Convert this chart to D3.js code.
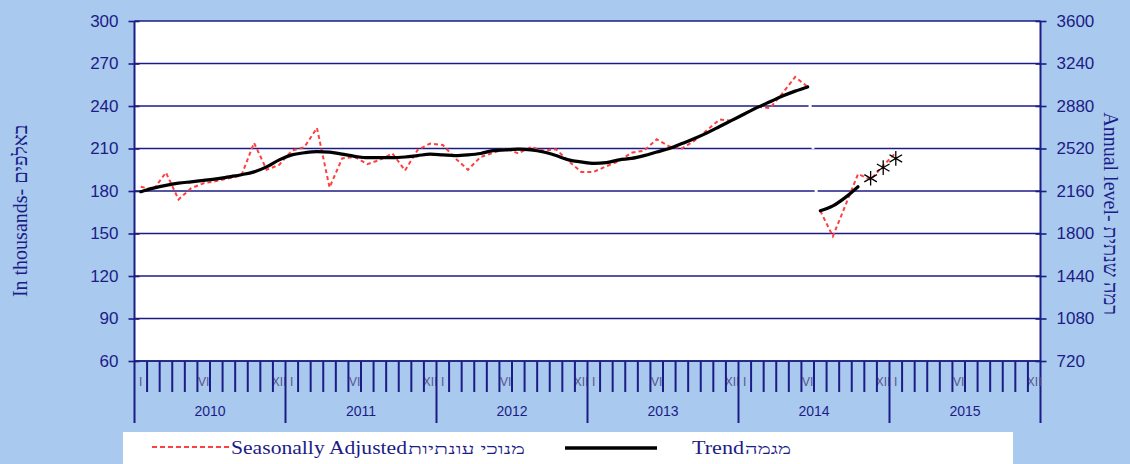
<!DOCTYPE html>
<html>
<head>
<meta charset="utf-8">
<script src="https://cdn.jsdelivr.net/npm/d3@7"></script>
<style>
  body { margin: 0; background: #a9c9ee; }
  svg { display: block; }
</style>
</head>
<body>
<div id="chart"></div>
<script>
// month index 0 = Jan 2010
const years = [2010, 2011, 2012, 2013, 2014, 2015];
const monthLabels = { 0: "I", 5: "VI", 11: "XII" };
const leftTicks = [60, 90, 120, 150, 180, 210, 240, 270, 300];
const rightTicks = [720, 1080, 1440, 1800, 2160, 2520, 2880, 3240, 3600];

// seasonally adjusted, Jan 2010 - Jun 2014
const adjusted1 = [183, 181, 193, 174, 182, 185.5, 187, 189, 191, 214, 195, 198.5,
  208.5, 211, 224.5, 182.5, 203, 204, 199, 202, 206.5, 194.5, 209, 213.5,
  212.5, 203, 195, 204, 207, 210, 206.5, 211, 208.5, 209.5, 201, 193.5,
  193.5, 197.5, 201, 207, 208.5, 216.5, 211.5, 210, 215.5, 223, 230.5, 229.5,
  235, 239.5, 238.5, 249, 260.5, 253.5];
// trend, Jan 2010 - Jun 2014
const trend1 = [179.5, 182, 184, 185.5, 186.5, 187.5, 188.5, 190, 191.5, 193.5, 197, 202,
  205.5, 207, 207.8, 207.5, 206, 204.5, 203.5, 203.5, 203.5, 204, 205, 206,
  205.5, 205, 205.5, 206.5, 208.5, 209, 209.5, 209, 207.5, 205, 202, 200.5,
  199.5, 200, 202, 203, 205, 207.5, 210, 213.5, 217, 221, 225.5, 230,
  234.5, 239, 243, 247, 250.5, 253.5];
// new series from Jul 2014
const start2 = 54;
const adjusted2 = [166, 148, 170, 192, 188, 198, 207];
const trend2 = [166, 169.5, 175.5, 183];
const forecastStart = 58;
const forecast = [189, 196.5, 203];

const breakLine = [[53.65, 245], [54.2, 176]];

const width = 1130, height = 464;
const navy = "#1c1c86";
const serif = "Liberation Serif, Times New Roman, serif";
const sans = "Liberation Sans, Arial, sans-serif";

const svg = d3.select("#chart").append("svg")
  .attr("width", width).attr("height", height);

svg.append("rect").attr("width", width).attr("height", height).attr("fill", "#a9c9ee");

const x = d3.scaleLinear().domain([0, 72]).range([134.5, 1040.5]);
const y = d3.scaleLinear().domain([60, 300]).range([361, 21]);
const y2 = d3.scaleLinear().domain([720, 3600]).range([361, 21]);

// plot area
svg.append("rect")
  .attr("x", x(0)).attr("y", y(300))
  .attr("width", x(72) - x(0)).attr("height", y(60) - y(300))
  .attr("fill", "#fff");

// gridlines
svg.append("g").selectAll("line")
  .data(leftTicks)
  .join("line")
  .attr("x1", x(0)).attr("x2", x(72))
  .attr("y1", d => y(d)).attr("y2", d => y(d))
  .attr("stroke", navy).attr("stroke-width", 1.6);

// break between series
svg.append("line")
  .attr("x1", x(breakLine[0][0])).attr("y1", y(breakLine[0][1]))
  .attr("x2", x(breakLine[1][0])).attr("y2", y(breakLine[1][1]))
  .attr("stroke", "#fff").attr("stroke-width", 3)
  .attr("stroke-dasharray", "14,4");

// left axis
const leftAxis = svg.append("g")
  .attr("transform", `translate(${x(0)},0)`)
  .call(d3.axisLeft(y).tickValues(leftTicks).tickFormat(d3.format("d")).tickSize(6).tickPadding(10));
leftAxis.select(".domain").remove();
leftAxis.selectAll(".tick line").attr("x2", -6).attr("x1", 5).attr("stroke", navy).attr("stroke-width", 1.6);
leftAxis.selectAll("text")
  .attr("fill", navy).attr("font-family", sans).attr("font-size", 17);

const rightAxis = svg.append("g")
  .attr("transform", `translate(${x(72)},0)`)
  .call(d3.axisRight(y2).tickValues(rightTicks).tickFormat(d3.format("d")).tickSize(6).tickPadding(10));
rightAxis.select(".domain").remove();
rightAxis.selectAll(".tick line").attr("x2", 6).attr("x1", -5).attr("stroke", navy).attr("stroke-width", 1.6);
rightAxis.selectAll("text")
  .attr("fill", navy).attr("font-family", sans).attr("font-size", 17);

// axis lines
[0, 72].forEach(m => {
  svg.append("line")
    .attr("x1", x(m)).attr("x2", x(m))
    .attr("y1", y(300)).attr("y2", 423)
    .attr("stroke", navy).attr("stroke-width", 2);
});
svg.append("line")
  .attr("x1", x(0)).attr("x2", x(72))
  .attr("y1", y(60)).attr("y2", y(60))
  .attr("stroke", navy).attr("stroke-width", 1.6);

// month ticks and labels
const months = d3.range(72);
const monthG = svg.append("g");
monthG.selectAll("text")
  .data(months.filter(m => monthLabels[m % 12]))
  .join("text")
  .attr("x", m => x(m + 0.5))
  .attr("y", 386)
  .attr("text-anchor", "middle")
  .attr("font-family", sans)
  .attr("font-size", 12)
  .attr("fill", "#55558f")
  .text(m => monthLabels[m % 12]);
monthG.selectAll("line")
  .data(d3.range(1, 72))
  .join("line")
  .attr("x1", m => x(m)).attr("x2", m => x(m))
  .attr("y1", y(60)).attr("y2", m => m % 12 === 0 ? 423 : 392)
  .attr("stroke", navy).attr("stroke-width", 2);

svg.append("g").selectAll("text")
  .data(years)
  .join("text")
  .attr("x", (d, i) => x(i * 12 + 6))
  .attr("y", 416)
  .attr("text-anchor", "middle")
  .attr("font-family", sans)
  .attr("font-size", 14)
  .attr("fill", navy)
  .text(d => d);

// series
const line = d3.line().x(d => x(d[0] + 0.5)).y(d => y(d[1]));
const smooth = d3.line().x(d => x(d[0] + 0.5)).y(d => y(d[1])).curve(d3.curveMonotoneX);

const a1 = adjusted1.map((v, i) => [i, v]);
const a2 = adjusted2.map((v, i) => [start2 + i, v]);
const t1 = trend1.map((v, i) => [i, v]);
const t2 = trend2.map((v, i) => [start2 + i, v]);
const f = forecast.map((v, i) => [forecastStart + i, v]);

[a1, a2].forEach(s => {
  svg.append("path").attr("d", line(s))
    .attr("fill", "none").attr("stroke", "#ff4040")
    .attr("stroke-width", 2).attr("stroke-dasharray", "4,3");
});
[t1, t2].forEach(s => {
  svg.append("path").attr("d", smooth(s))
    .attr("fill", "none").attr("stroke", "#000")
    .attr("stroke-width", 3.2).attr("stroke-linecap", "round");
});
svg.append("g").selectAll("path")
  .data(f)
  .join("path")
  .attr("transform", d => `translate(${x(d[0] + 0.5)},${y(d[1])})`)
  .attr("d", d3.symbol(d3.symbolAsterisk, 150))
  .attr("fill", "none").attr("stroke", "#000").attr("stroke-width", 1.3);

// axis titles
svg.append("text")
  .attr("transform", `translate(27,${y(166)}) rotate(-90)`)
  .attr("text-anchor", "middle")
  .attr("font-family", serif)
  .attr("font-size", 20)
  .attr("fill", navy)
  .text("In thousands- באלפים");

svg.append("text")
  .attr("transform", `translate(1104,${y(164)}) rotate(90)`)
  .attr("text-anchor", "middle")
  .attr("font-family", serif)
  .attr("font-size", 20)
  .attr("fill", navy)
  .text("Annual level- רמה שנתית");

// legend
const legend = svg.append("g").attr("font-family", serif).attr("fill", navy);
legend.append("rect")
  .attr("x", 123).attr("y", 432).attr("width", 890).attr("height", 40)
  .attr("fill", "#fff");
legend.append("line")
  .attr("x1", 152).attr("x2", 229).attr("y1", 447).attr("y2", 447)
  .attr("stroke", "#ff4040").attr("stroke-width", 2).attr("stroke-dasharray", "5,3");
legend.append("text")
  .attr("x", 231).attr("y", 454).attr("font-size", 19)
  .attr("textLength", 176).attr("lengthAdjust", "spacingAndGlyphs")
  .text("Seasonally Adjusted");
legend.append("text")
  .attr("x", 408).attr("y", 454).attr("font-size", 15)
  .attr("textLength", 117).attr("lengthAdjust", "spacingAndGlyphs")
  .text("מנוכי עונתיות");
legend.append("line")
  .attr("x1", 565).attr("x2", 657).attr("y1", 448).attr("y2", 448)
  .attr("stroke", "#000").attr("stroke-width", 3.5);
legend.append("text")
  .attr("x", 692).attr("y", 454).attr("font-size", 19)
  .attr("textLength", 52).attr("lengthAdjust", "spacingAndGlyphs")
  .text("Trend");
legend.append("text")
  .attr("x", 745).attr("y", 454).attr("font-size", 15)
  .attr("textLength", 46).attr("lengthAdjust", "spacingAndGlyphs")
  .text("מגמה");
</script>
</body>
</html>
